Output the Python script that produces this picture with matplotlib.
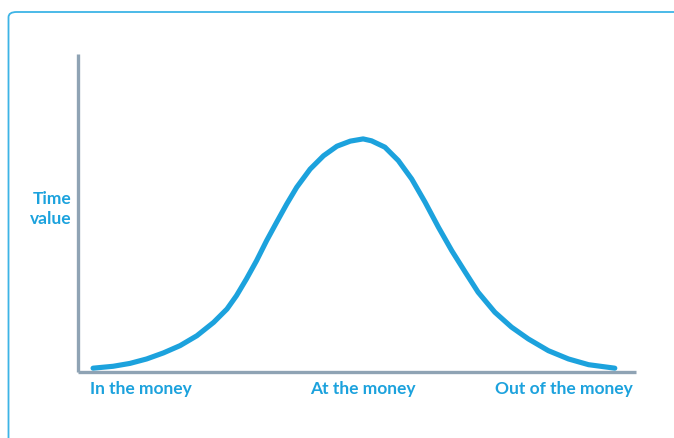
import matplotlib
matplotlib.use("Agg")
import matplotlib.pyplot as plt
from matplotlib.patches import FancyBboxPatch

# moneyness position (0-100 across the x axis) and time value (0-100 up the y axis)
moneyness = [2.7, 6.3, 9.3, 12.3, 15.3, 18.3, 21.3, 24.3, 26.7, 28.4, 30.2, 32.0,
             33.8, 35.6, 37.4, 39.2, 41.6, 44.0, 46.4, 48.8, 51.1,
             52.6, 55.0, 57.4, 59.8, 62.2, 64.6, 67.0, 69.4, 71.7, 74.7, 77.7,
             80.7, 84.3, 87.9, 91.5, 96.2]
time_value = [1.2, 1.8, 2.7, 4.1, 6.0, 8.3, 11.4, 15.6, 19.8, 24.0, 29.3, 35.0,
              41.3, 47.1, 52.8, 58.1, 63.8, 68.0, 71.0, 72.6, 73.3,
              72.7, 70.7, 66.5, 60.7, 53.4, 45.5, 38.1, 31.4, 25.1, 18.8, 14.1,
              10.4, 6.7, 4.1, 2.3, 1.2]

x_labels = ["In the money", "At the money", "Out of the money"]
x_label_pos = [2.1, 51.0, 87.0]
x_label_ha = ["left", "center", "center"]

BLUE = "#1CA2DD"
AXIS = "#8FA3B4"
W, H = 674, 439

fig = plt.figure(figsize=(W / 100, H / 100), dpi=100)
plt.rcParams["font.family"] = ["Lato", "DejaVu Sans"]

# rounded frame round the whole picture (runs off the right and bottom)
frame = FancyBboxPatch((8.5 / W, -0.05), 1.0, (H - 13) / H + 0.05,
                       boxstyle="round,pad=0,rounding_size=0.012",
                       transform=fig.transFigure, fill=False,
                       edgecolor="#3DB4E6", lw=1.3)
fig.patches.append(frame)

ax = fig.add_axes([78 / W, (H - 373) / H, 558 / W, 318 / H])
ax.set_xlim(0, 100)
ax.set_ylim(0, 100)
for s in ["top", "right"]:
    ax.spines[s].set_visible(False)
for s in ["left", "bottom"]:
    ax.spines[s].set_color(AXIS)
    ax.spines[s].set_linewidth(2.4)
    ax.spines[s].set_capstyle("butt")
ax.set_xticks([])
ax.set_yticks([])

ax.plot(moneyness, time_value, color=BLUE, lw=3.7,
        solid_capstyle="round", solid_joinstyle="round")

for lab, pos, ha in zip(x_labels, x_label_pos, x_label_ha):
    ax.text(pos, -2.6, lab, ha=ha, va="top", color=BLUE,
            fontsize=12.5, fontweight="bold")

ax.text(-1.2, 51.5, "Time\nvalue", ha="right", va="center", color=BLUE,
        fontsize=12.5, fontweight="bold", linespacing=1.3)

fig.savefig("out.png", dpi=100)
